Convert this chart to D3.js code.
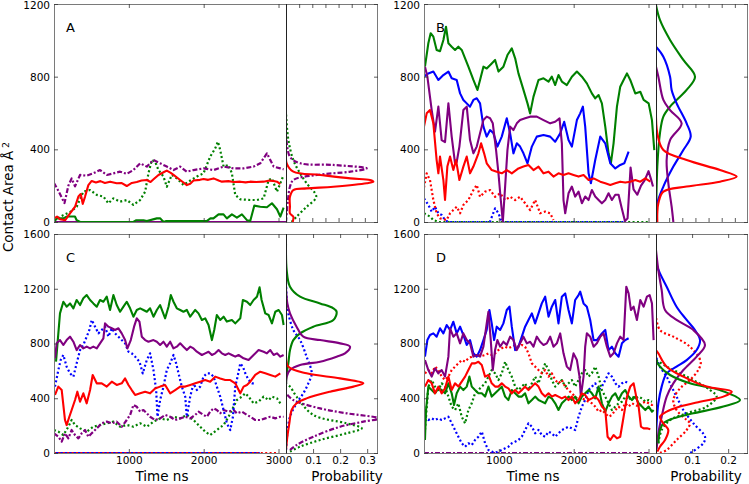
<!DOCTYPE html>
<html><head><meta charset="utf-8">
<script src="https://cdn.jsdelivr.net/npm/d3@7"></script>
<style>body{margin:0;background:#fff}svg{display:block}text{font-family:"DejaVu Sans",sans-serif}</style>
</head><body><svg id="c" width="749" height="484"></svg>
<script>
// ---------- time series: [time ns, contact area] ----------
const A_red = [[0,20],[40,30],[80,15],[150,10],[214,48],[281,84],[326,140],[357,154],[384,100],[415,140],[459,203],[504,226],[560,218],[620,225],[680,215],[750,222],[838,213],[900,215],[972,198],[1040,215],[1106,220],[1170,228],[1240,231],[1290,220],[1330,235],[1396,259],[1470,275],[1507,283],[1560,270],[1597,259],[1686,231],[1775,203],[1820,210],[1864,228],[1950,232],[1998,237],[2060,232],[2132,240],[2200,228],[2243,222],[2330,225],[2400,220],[2489,222],[2560,218],[2622,222],[2700,220],[2801,222],[2880,228],[2935,226],[2980,222],[3024,209]];
const A_green = [[0,0],[36,20],[125,20],[169,30],[280,30],[303,10],[350,0],[1060,0],[1100,10],[1195,10],[1240,5],[1374,20],[1420,20],[1463,0],[1500,5],[2040,5],[2090,20],[2130,20],[2199,42],[2265,42],[2310,20],[2377,42],[2444,24],[2511,42],[2578,10],[2622,5],[2676,90],[2756,84],[2845,81],[2912,103],[2979,70],[3024,30],[3068,79]];
const A_greenDot = [[0,10],[125,38],[214,55],[303,84],[392,167],[482,176],[571,149],[660,140],[727,103],[794,130],[883,112],[972,121],[1061,94],[1151,121],[1218,167],[1262,268],[1307,341],[1351,332],[1396,286],[1463,250],[1507,194],[1574,259],[1641,240],[1730,204],[1797,222],[1909,250],[1998,268],[2087,360],[2154,405],[2190,442],[2221,396],[2266,305],[2333,314],[2377,268],[2422,149],[2489,125],[2622,121],[2712,121],[2801,130],[2868,231],[2912,240],[2979,167],[3024,213],[3060,250]];
const A_purpleDot = [[0,215],[60,170],[140,104],[192,200],[236,240],[281,196],[348,259],[437,255],[526,268],[615,286],[705,259],[794,268],[883,277],[972,265],[1061,286],[1151,323],[1240,305],[1329,341],[1418,323],[1507,305],[1597,286],[1686,305],[1775,277],[1864,286],[1998,295],[2132,286],[2266,305],[2399,295],[2533,295],[2667,305],[2756,323],[2845,378],[2890,341],[2935,305],[3024,295],[3068,290]];
const A_purple = [[0,0],[3100,0]];

const B_green = [[13,855],[58,984],[89,1039],[125,1020],[169,947],[214,940],[259,1002],[294,1075],[326,984],[370,965],[415,947],[459,965],[504,947],[549,901],[593,855],[660,782],[714,727],[749,782],[794,855],[838,845],[905,873],[950,892],[995,828],[1061,855],[1115,919],[1173,956],[1218,901],[1262,818],[1329,727],[1383,653],[1418,598],[1463,690],[1530,782],[1597,791],[1664,773],[1708,800],[1753,754],[1797,809],[1842,773],[1909,754],[1976,800],[2043,828],[2110,800],[2176,763],[2243,708],[2288,681],[2333,699],[2377,653],[2422,525],[2466,378],[2497,323],[2533,433],[2578,635],[2622,745],[2667,782],[2712,818],[2756,782],[2823,708],[2890,717],[2935,672],[3002,653],[3046,561],[3077,396]];
const B_blue = [[0,800],[58,818],[125,828],[192,782],[259,809],[326,828],[370,791],[437,782],[482,708],[526,672],[571,653],[615,635],[660,672],[705,681],[749,653],[794,525],[838,470],[883,506],[928,488],[981,415],[1039,470],[1106,571],[1151,488],[1195,378],[1240,433],[1284,415],[1329,378],[1383,323],[1441,415],[1507,470],[1597,479],[1686,470],[1753,442],[1820,488],[1873,552],[1931,451],[1976,415],[2043,561],[2087,598],[2123,635],[2154,525],[2199,268],[2230,213],[2288,341],[2355,470],[2422,433],[2489,323],[2556,295],[2622,314],[2676,323],[2734,387]];
const B_purple = [[13,855],[45,800],[103,616],[147,497],[192,635],[236,451],[281,440],[326,653],[370,470],[415,323],[437,330],[473,415],[526,616],[571,635],[615,451],[660,378],[705,415],[749,488],[794,561],[838,580],[883,571],[919,543],[963,396],[995,268],[1026,121],[1053,0],[1084,195],[1115,396],[1151,525],[1195,506],[1240,543],[1284,561],[1351,571],[1418,580],[1507,580],[1597,561],[1686,543],[1753,552],[1811,570],[1842,433],[1864,121],[1887,48],[1931,158],[1976,195],[2020,140],[2065,167],[2110,103],[2154,140],[2199,121],[2243,176],[2288,140],[2333,121],[2377,103],[2422,121],[2466,158],[2511,121],[2556,150],[2600,150],[2640,80],[2685,5],[2720,20],[2760,300],[2800,180],[2850,150],[2900,200],[2950,230],[3000,280],[3030,240],[3060,195]];
const B_red = [[0,525],[36,598],[80,616],[125,543],[169,341],[192,268],[214,360],[259,231],[281,121],[312,305],[348,360],[392,286],[428,341],[473,231],[526,305],[571,360],[615,268],[660,305],[727,378],[763,433],[803,378],[838,323],[905,286],[972,277],[1039,268],[1106,286],[1173,268],[1262,295],[1329,305],[1396,314],[1463,286],[1530,305],[1597,268],[1664,277],[1730,250],[1797,268],[1864,259],[1931,268],[1998,259],[2065,250],[2132,259],[2199,231],[2266,240],[2355,222],[2422,213],[2489,204],[2556,213],[2622,222],[2689,217],[2756,222],[2823,231],[2890,222],[2957,240],[3024,222]];
const B_redDot = [[0,190],[36,268],[80,231],[125,121],[169,48],[214,20],[303,11],[348,48],[392,66],[437,84],[482,48],[526,94],[593,121],[660,176],[705,204],[749,139],[816,167],[883,176],[950,139],[1017,158],[1084,121],[1151,139],[1218,121],[1284,139],[1351,103],[1418,66],[1485,121],[1552,48],[1619,57],[1686,48],[1730,11]];
const B_blueDot = [[0,130],[58,94],[103,57],[147,84],[192,48],[236,39],[281,11],[326,0],[880,0],[950,75],[995,48],[1039,0],[2700,0]];
const B_greenDot = [[0,48],[80,30],[125,11],[200,0],[3000,0]];

const C_green = [[27,667],[80,1020],[125,1105],[169,1069],[214,1093],[259,1057],[303,1118],[348,1081],[392,1130],[437,1154],[482,1118],[526,1093],[571,1069],[615,1118],[660,1105],[705,1142],[749,1045],[794,1154],[838,1081],[883,1032],[928,1069],[972,1105],[1017,1057],[1061,996],[1106,1045],[1151,1057],[1195,1045],[1240,1032],[1284,1057],[1329,996],[1374,1045],[1418,1081],[1485,984],[1530,1069],[1561,1154],[1597,1105],[1641,1057],[1686,1045],[1730,1032],[1775,1045],[1820,996],[1887,1045],[1931,1020],[1976,972],[2020,984],[2065,935],[2110,825],[2141,899],[2176,1008],[2221,972],[2266,996],[2310,960],[2377,972],[2422,947],[2489,984],[2524,1118],[2578,1105],[2622,1081],[2667,1118],[2712,1142],[2747,1210],[2774,1118],[2823,1020],[2868,1008],[2912,947],[2957,1032],[3002,1045],[3046,1008],[3068,935]];
const C_purple = [[13,692],[36,801],[80,825],[125,789],[169,825],[214,850],[259,813],[303,752],[348,789],[392,764],[437,777],[482,764],[526,777],[571,764],[615,801],[660,838],[682,947],[727,923],[772,911],[816,899],[861,911],[905,874],[950,825],[981,764],[1026,825],[1070,923],[1106,984],[1142,959],[1173,850],[1218,825],[1262,813],[1329,825],[1374,813],[1418,789],[1463,813],[1507,777],[1552,813],[1597,764],[1641,777],[1686,801],[1730,777],[1775,752],[1820,777],[1864,764],[1909,740],[1976,716],[2020,728],[2065,740],[2110,716],[2154,728],[2199,752],[2243,728],[2288,716],[2333,728],[2377,716],[2422,704],[2466,716],[2533,692],[2600,679],[2667,716],[2734,752],[2801,740],[2845,728],[2890,752],[2935,716],[2979,728],[3024,704],[3068,716]];
const C_red = [[13,424],[58,485],[103,460],[147,241],[169,204],[205,265],[236,314],[281,387],[312,448],[348,375],[392,436],[437,363],[482,460],[517,570],[571,509],[638,509],[705,485],[772,521],[838,497],[905,509],[950,545],[995,497],[1039,460],[1084,424],[1151,436],[1218,448],[1284,436],[1351,472],[1418,485],[1485,497],[1552,436],[1619,460],[1686,485],[1753,485],[1820,497],[1887,509],[1953,521],[2020,533],[2087,521],[2154,558],[2221,545],[2288,533],[2355,533],[2422,509],[2489,436],[2533,485],[2578,497],[2622,521],[2689,570],[2756,594],[2823,582],[2890,570],[2957,558],[3024,582]];
const C_blueDot = [[13,485],[58,606],[89,679],[125,716],[169,631],[214,582],[259,558],[303,655],[348,752],[392,789],[437,850],[473,899],[504,972],[549,923],[593,874],[638,899],[682,923],[727,850],[772,911],[816,874],[861,850],[905,825],[950,801],[995,740],[1039,728],[1084,704],[1142,667],[1186,582],[1240,679],[1284,728],[1329,606],[1365,460],[1383,265],[1418,387],[1463,485],[1507,606],[1552,655],[1597,716],[1632,655],[1664,582],[1708,485],[1753,412],[1775,265],[1820,412],[1864,509],[1909,460],[1953,485],[1998,558],[2043,582],[2087,582],[2132,558],[2176,485],[2221,412],[2266,314],[2310,217],[2355,168],[2391,265],[2422,485],[2453,558],[2489,655],[2524,631],[2556,582],[2600,533],[2645,509],[2689,509]];
const C_greenDot = [[0,168],[58,156],[125,131],[192,192],[236,241],[281,205],[348,180],[437,156],[526,192],[615,205],[705,217],[794,229],[883,192],[972,205],[1061,192],[1151,217],[1240,192],[1329,229],[1418,253],[1507,241],[1597,265],[1686,253],[1775,278],[1864,241],[1953,192],[2020,156],[2087,131],[2176,168],[2266,205],[2333,265],[2377,314],[2444,387],[2511,412],[2556,436],[2600,412],[2667,363],[2734,375],[2801,412],[2868,387],[2912,412],[2979,399],[3024,363]];
const C_purpleDot = [[0,144],[58,119],[103,83],[147,144],[192,107],[236,168],[281,131],[326,107],[370,144],[415,168],[459,119],[504,144],[571,180],[638,217],[705,229],[772,217],[838,229],[905,192],[972,241],[1017,278],[1061,351],[1106,338],[1151,302],[1195,314],[1240,290],[1284,265],[1351,241],[1418,253],[1485,278],[1552,265],[1619,241],[1686,253],[1753,265],[1820,253],[1887,278],[1931,302],[1998,278],[2043,265],[2087,302],[2132,326],[2176,314],[2221,290],[2266,314],[2333,302],[2399,314],[2444,290],[2511,302],[2578,278],[2622,265],[2689,241],[2756,241],[2823,253],[2890,265],[2957,253],[3024,265],[3068,265]];
const C_blue = [[0,0],[2750,0]];
const C_redDot = [[0,0],[3000,0]];

const D_blue = [[13,704],[45,825],[80,862],[125,874],[169,850],[214,911],[259,874],[303,935],[348,899],[392,959],[437,874],[482,923],[526,862],[571,789],[615,825],[660,728],[705,704],[749,752],[794,825],[838,899],[874,1045],[905,947],[937,825],[972,923],[1017,899],[1061,947],[1106,1045],[1142,1069],[1173,923],[1218,752],[1262,777],[1307,850],[1351,923],[1396,972],[1441,1020],[1485,947],[1530,1020],[1574,1093],[1619,1142],[1664,996],[1708,1069],[1753,1118],[1797,947],[1842,1142],[1887,1166],[1931,1045],[1976,947],[2020,1118],[2065,1154],[2087,1179],[2132,1093],[2176,1069],[2221,972],[2266,825],[2310,825],[2377,874],[2422,899],[2466,752],[2511,777],[2556,728],[2600,704],[2645,801],[2689,825],[2734,838]];
const D_purple = [[13,679],[58,606],[103,558],[147,618],[192,582],[236,606],[281,558],[326,704],[348,911],[392,850],[437,874],[482,801],[526,874],[571,825],[615,801],[660,704],[705,716],[749,704],[794,777],[838,947],[861,1032],[892,825],[919,606],[950,752],[981,825],[1017,777],[1061,813],[1106,789],[1151,850],[1195,825],[1240,752],[1284,801],[1329,850],[1374,801],[1418,813],[1463,777],[1507,850],[1552,813],[1597,789],[1641,801],[1686,850],[1730,777],[1775,801],[1820,874],[1864,728],[1909,631],[1953,606],[1998,728],[2043,679],[2078,558],[2096,412],[2132,558],[2154,777],[2176,874],[2221,850],[2266,777],[2310,801],[2355,850],[2399,874],[2444,777],[2489,704],[2533,728],[2578,801],[2622,850],[2667,825],[2703,1215],[2734,1166],[2765,1045],[2801,1069],[2845,972],[2890,1118],[2935,1069],[2979,1142],[3015,1154],[3046,1093],[3068,825]];
const D_red = [[13,485],[58,533],[103,509],[147,436],[192,485],[236,436],[281,472],[326,558],[370,460],[415,509],[459,485],[504,521],[549,558],[593,606],[638,655],[682,655],[727,667],[772,643],[816,558],[861,570],[905,509],[950,485],[995,485],[1039,509],[1084,485],[1128,472],[1173,436],[1218,460],[1262,436],[1307,460],[1351,485],[1396,460],[1441,485],[1485,509],[1530,485],[1574,436],[1619,412],[1664,436],[1708,412],[1753,424],[1797,412],[1842,399],[1887,412],[1931,387],[1976,412],[2020,363],[2065,387],[2110,436],[2154,424],[2199,387],[2243,399],[2288,412],[2333,387],[2377,339],[2422,314],[2453,119],[2489,95],[2533,131],[2578,107],[2622,119],[2667,265],[2712,412],[2756,485],[2801,509],[2836,412],[2868,339],[2899,192],[2935,180],[2979,180],[3024,173]];
const D_green = [[13,95],[27,314],[58,485],[103,460],[147,436],[192,472],[236,460],[281,436],[326,509],[370,436],[401,351],[437,436],[482,485],[526,460],[571,485],[607,558],[638,485],[682,460],[727,436],[772,436],[816,412],[861,485],[905,412],[950,436],[995,460],[1039,485],[1084,412],[1128,387],[1173,460],[1218,436],[1262,412],[1307,412],[1351,436],[1396,363],[1441,387],[1485,412],[1530,387],[1574,375],[1619,363],[1664,412],[1708,399],[1753,363],[1797,314],[1842,363],[1887,387],[1931,412],[1976,387],[2020,412],[2065,363],[2110,412],[2154,436],[2199,460],[2243,436],[2288,399],[2333,485],[2377,363],[2422,302],[2466,363],[2511,412],[2556,436],[2600,387],[2645,436],[2689,460],[2734,412],[2779,387],[2823,412],[2868,363],[2912,339],[2957,314],[3002,339],[3046,302],[3068,314]];
const D_redDot = [[13,582],[58,606],[103,582],[147,631],[192,606],[236,558],[281,533],[326,558],[370,606],[415,631],[459,655],[504,679],[549,667],[593,692],[638,704],[682,716],[727,716],[772,709],[816,716],[861,728],[905,716],[950,728],[995,752],[1039,765],[1084,777],[1128,765],[1173,777],[1218,789],[1262,777],[1307,789],[1351,777],[1396,728],[1441,655],[1485,631],[1530,606],[1574,582],[1619,606],[1664,558],[1708,582],[1753,533],[1797,509],[1842,533],[1887,485],[1931,460],[1976,436],[2020,412],[2065,387],[2110,399],[2154,387],[2199,375],[2243,363],[2288,339],[2333,302],[2377,314],[2422,290],[2466,265],[2511,278],[2556,314],[2600,339],[2645,314],[2689,363],[2734,339],[2779,363],[2823,351],[2868,339],[2912,363],[2957,375],[3002,363],[3046,351],[3068,363]];
const D_greenDot = [[13,168],[58,485],[103,533],[147,485],[192,460],[236,509],[281,485],[326,412],[370,339],[415,314],[459,363],[504,265],[549,217],[593,314],[638,363],[682,436],[727,460],[772,485],[816,509],[861,558],[905,606],[950,582],[995,533],[1039,582],[1084,667],[1128,606],[1173,558],[1218,485],[1262,460],[1307,485],[1351,509],[1396,460],[1441,509],[1485,558],[1530,509],[1574,582],[1619,655],[1664,606],[1708,533],[1753,485],[1797,509],[1842,533],[1887,485],[1931,509],[1976,533],[2020,485],[2065,533],[2110,582],[2154,606],[2199,558],[2243,582],[2288,631],[2333,558],[2377,460],[2422,412],[2466,363],[2511,314],[2556,339],[2600,363],[2645,375],[2689,412],[2734,387],[2779,412],[2823,399],[2868,412],[2912,399],[2957,375],[3002,387],[3046,375]];
const D_blueDot = [[13,265],[58,241],[103,253],[147,241],[192,253],[236,241],[281,253],[326,265],[370,217],[415,168],[459,119],[504,71],[549,46],[593,71],[638,58],[682,95],[727,119],[772,156],[816,71],[861,22],[905,10],[950,2],[995,10],[1039,22],[1084,34],[1128,46],[1173,71],[1218,83],[1262,95],[1307,119],[1351,168],[1396,217],[1441,192],[1485,144],[1530,168],[1574,131],[1619,119],[1664,156],[1708,144],[1753,119],[1797,144],[1842,168],[1887,180],[1931,192],[1976,180],[2020,168],[2065,265],[2110,339],[2154,387],[2199,460],[2243,485],[2288,509],[2333,460],[2377,485],[2422,533],[2466,582],[2511,558],[2556,509],[2600,485],[2645,509],[2689,521],[2734,509]];
const D_purpleDot = [[0,0],[3000,0]];

// ---------- probability densities: [contact area, probability] ----------
const A_dRed = [[0,0.005],[29,0.0056],[48,0.003],[84,0.003],[139,0.003],[176,0.0056],[185,0.0157],[194,0.036],[213,0.0614],[222,0.0665],[231,0.064],[240,0.049],[259,0.026],[277,0.0056],[323,0.0005],[369,0]];
const A_dPurpleDot = [[0,0],[121,0.0015],[194,0.003],[231,0.0056],[259,0.0235],[277,0.049],[295,0.0614],[314,0.036],[323,0.011],[359,0.003],[489,0]];
const A_dGreenDot = [[0,0.0043],[29,0.008],[84,0.0157],[139,0.023],[213,0.0157],[268,0.0107],[341,0.0056],[451,0.0018],[600,0]];

const B_dGreen = [[0,0],[305,0.001],[488,0.003],[580,0.0056],[635,0.0107],[727,0.0233],[800,0.0297],[892,0.0208],[1002,0.0107],[1112,0.003],[1193,0]];
const B_dBlue = [[0,0],[103,0.001],[195,0.0056],[305,0.0132],[396,0.0208],[470,0.0264],[543,0.0233],[653,0.0157],[727,0.0119],[800,0.0107],[910,0.0056],[965,0]];
const B_dPurple = [[0,0.0132],[84,0.0119],[213,0.0094],[341,0.0081],[451,0.0107],[543,0.0195],[616,0.0107],[672,0.0056],[800,0.0018],[855,0]];
const B_dRed = [[0,0.001],[48,0.001],[103,0.0018],[167,0.0056],[195,0.0233],[222,0.0487],[250,0.0614],[286,0.0487],[341,0.0233],[396,0.0056],[488,0.001],[672,0]];

const C_dGreen = [[509,0],[582,0.0025],[655,0.0086],[752,0.0148],[825,0.027],[874,0.052],[923,0.101],[972,0.175],[1032,0.187],[1057,0.175],[1093,0.126],[1142,0.052],[1215,0.0148],[1337,0.0025],[1532,0]];
const C_dPurple = [[485,0],[558,0.0025],[606,0.0148],[643,0.052],[667,0.126],[704,0.187],[728,0.218],[777,0.2365],[801,0.2],[825,0.126],[850,0.064],[923,0.039],[1020,0.0148],[1093,0.005],[1200,0]];
const C_dRed = [[22,0],[119,0.005],[217,0.0123],[314,0.021],[363,0.039],[399,0.076],[448,0.163],[485,0.249],[509,0.286],[545,0.2],[582,0.076],[631,0.0086],[704,0]];
const C_dBlueDot = [[22,0],[144,0.005],[265,0.0148],[363,0.039],[436,0.064],[509,0.0825],[582,0.095],[704,0.076],[825,0.052],[899,0.027],[1020,0.0086],[1100,0.003],[1260,0]];
const C_dGreenDot = [[10,0.0148],[46,0.052],[95,0.126],[144,0.224],[180,0.28],[217,0.224],[278,0.101],[412,0.039],[485,0.0148],[509,0]];
const C_dPurpleDot = [[22,0.0148],[58,0.039],[119,0.101],[192,0.2],[229,0.286],[253,0.345],[290,0.224],[326,0.126],[387,0.027],[436,0]];

const D_dBlue = [[71,0],[217,0.0018],[363,0.0065],[485,0.0157],[582,0.0296],[631,0.057],[679,0.085],[752,0.1127],[825,0.122],[898,0.108],[972,0.085],[1069,0.057],[1215,0.0296],[1312,0.011],[1385,0]];
const D_dPurple = [[30,0.0018],[144,0.0065],[265,0.0157],[412,0.0296],[509,0.048],[606,0.0758],[704,0.1127],[789,0.1358],[898,0.1035],[972,0.057],[1045,0.025],[1191,0.0157],[1337,0.0065],[1483,0]];
const D_dRed = [[10,0.0037],[46,0.011],[95,0.025],[168,0.034],[217,0.0203],[265,0.011],[302,0.0296],[339,0.0665],[375,0.122],[412,0.1866],[448,0.21],[485,0.1404],[558,0.0758],[631,0.0296],[728,0.0065],[752,0]];
const D_dGreen = [[71,0.0065],[168,0.011],[217,0.0203],[253,0.048],[290,0.1035],[339,0.1866],[387,0.233],[460,0.1773],[509,0.094],[570,0.039],[631,0.011],[680,0]];
const D_dGreenDot = [[71,0.0065],[168,0.0157],[241,0.039],[290,0.085],[339,0.1404],[412,0.168],[460,0.15],[558,0.085],[631,0.0296],[680,0]];
const D_dRedDot = [[0,0.011],[22,0.0296],[95,0.057],[168,0.085],[217,0.094],[241,0.085],[314,0.057],[387,0.048],[472,0.0665],[533,0.094],[606,0.117],[667,0.1238],[777,0.094],[850,0.048],[898,0.011],[996,0]];
const D_dBlueDot = [[0,0.095],[71,0.131],[119,0.1358],[217,0.1035],[314,0.0758],[412,0.057],[485,0.043],[558,0.0296],[631,0.011],[704,0]];

// ---------- axis ticks ----------
const timeTicks = [1000, 2000, 3000];
const areaTicksTop = [0, 400, 800, 1200];
const areaTicksBottom = [0, 400, 800, 1200, 1600];
const probTicksTop = [0.01, 0.02, 0.03, 0.04, 0.05, 0.06];
const probTicksC = [0.1, 0.2, 0.3];
const probTicksD = [0.1, 0.2];
const panelLetters = ["A", "B", "C", "D"];

// ---------- layout / styling ----------
const COL = {red:"#ff0000", green:"#008000", blue:"#0000ff", purple:"#800080"};
const DASH = {solid:null, dot:"2,2.4", dashdot:"5,2,2,2"};
const S = (data, color, style) => ({data, color, style});

const panels = [
  {letter:panelLetters[0], x0:54, x1:286, px1:378, y0:4, y1:222, ymax:1200, pmax:0.07,
   yt:areaTicksTop, pt:probTicksTop, ptLabels:false, xLabels:false,
   series:[S(A_purple,"purple","solid"),S(A_greenDot,"green","dot"),S(A_purpleDot,"purple","dashdot"),S(A_green,"green","solid"),S(A_red,"red","solid")],
   dens:[S(A_dGreenDot,"green","dot"),S(A_dPurpleDot,"purple","dashdot"),S(A_dRed,"red","solid")]},
  {letter:panelLetters[1], x0:424, x1:656, px1:748, y0:4, y1:222, ymax:1200, pmax:0.07,
   yt:areaTicksTop, pt:probTicksTop, ptLabels:false, xLabels:false,
   series:[S(B_greenDot,"green","dot"),S(B_blueDot,"blue","dot"),S(B_redDot,"red","dot"),S(B_green,"green","solid"),S(B_blue,"blue","solid"),S(B_purple,"purple","solid"),S(B_red,"red","solid")],
   dens:[S(B_dGreen,"green","solid"),S(B_dBlue,"blue","solid"),S(B_dPurple,"purple","solid"),S(B_dRed,"red","solid")]},
  {letter:panelLetters[2], x0:54, x1:286, px1:378, y0:234, y1:453, ymax:1600, pmax:0.34,
   yt:areaTicksBottom, pt:probTicksC, ptLabels:true, xLabels:true, timeX:162, probX:347,
   series:[S(C_blue,"blue","solid"),S(C_redDot,"red","dot"),S(C_greenDot,"green","dot"),S(C_purpleDot,"purple","dashdot"),S(C_blueDot,"blue","dot"),S(C_green,"green","solid"),S(C_purple,"purple","solid"),S(C_red,"red","solid")],
   dens:[S(C_dGreenDot,"green","dot"),S(C_dPurpleDot,"purple","dashdot"),S(C_dBlueDot,"blue","dot"),S(C_dGreen,"green","solid"),S(C_dPurple,"purple","solid"),S(C_dRed,"red","solid")]},
  {letter:panelLetters[3], x0:424, x1:656, px1:748, y0:234, y1:453, ymax:1600, pmax:0.255,
   yt:areaTicksBottom, pt:probTicksD, ptLabels:true, xLabels:true, timeX:533, probX:706,
   series:[S(D_purpleDot,"purple","dashdot"),S(D_blueDot,"blue","dot"),S(D_greenDot,"green","dot"),S(D_redDot,"red","dot"),S(D_blue,"blue","solid"),S(D_purple,"purple","solid"),S(D_green,"green","solid"),S(D_red,"red","solid")],
   dens:[S(D_dBlueDot,"blue","dot"),S(D_dGreenDot,"green","dot"),S(D_dRedDot,"red","dot"),S(D_dBlue,"blue","solid"),S(D_dPurple,"purple","solid"),S(D_dGreen,"green","solid"),S(D_dRed,"red","solid")]}
];

const svg = d3.select("#c");
const FRAME = "#7a7a7a";

function styleAxis(g, labels){
  g.select(".domain").remove();
  g.selectAll(".tick line").attr("stroke", "#333").attr("stroke-width", 0.8);
  g.selectAll(".tick text").attr("font-family", "DejaVu Sans").attr("font-size", "10.5px").attr("fill", "#000");
  if(!labels) g.selectAll(".tick text").remove();
}

panels.forEach((p, i) => {
  const x = d3.scaleLinear().domain([0, 3100]).range([p.x0, p.x1]);
  const y = d3.scaleLinear().domain([0, p.ymax]).range([p.y1, p.y0]);
  const px = d3.scaleLinear().domain([0, p.pmax]).range([p.x1, p.px1]);

  const defs = svg.append("defs");
  defs.append("clipPath").attr("id", "cm" + i).append("rect")
    .attr("x", p.x0).attr("y", p.y0 - 1).attr("width", p.x1 - p.x0).attr("height", p.y1 - p.y0 + 1.5);
  defs.append("clipPath").attr("id", "cp" + i).append("rect")
    .attr("x", p.x1).attr("y", p.y0).attr("width", p.px1 - p.x1).attr("height", p.y1 - p.y0);

  const line = d3.line().x(d => x(d[0])).y(d => y(d[1]));
  const gm = svg.append("g").attr("clip-path", `url(#cm${i})`);
  p.series.forEach(s => {
    gm.append("path").datum(s.data).attr("d", line)
      .attr("fill", "none").attr("stroke", COL[s.color])
      .attr("stroke-width", s.style === "solid" ? 2.1 : 2.2)
      .attr("stroke-linejoin", "round")
      .attr("stroke-dasharray", DASH[s.style]);
  });

  const dline = d3.line().curve(d3.curveCatmullRom.alpha(0.5)).x(d => px(d[1])).y(d => y(d[0]));
  const gp = svg.append("g").attr("clip-path", `url(#cp${i})`);
  p.dens.forEach(s => {
    gp.append("path").datum(s.data).attr("d", dline)
      .attr("fill", "none").attr("stroke", COL[s.color])
      .attr("stroke-width", s.style === "solid" ? 2.1 : 2.2)
      .attr("stroke-dasharray", DASH[s.style]);
  });

  // frames
  svg.append("rect").attr("x", p.x0 + 0.5).attr("y", p.y0 + 0.5).attr("width", p.px1 - p.x0 - 1).attr("height", p.y1 - p.y0)
    .attr("fill", "none").attr("stroke", FRAME).attr("stroke-width", 1);
  svg.append("line").attr("x1", p.x1 + 0.5).attr("x2", p.x1 + 0.5).attr("y1", p.y0).attr("y2", p.y1 + 0.5)
    .attr("stroke", "#222").attr("stroke-width", 1);

  // axes (inward ticks)
  svg.append("g").attr("transform", `translate(${p.x0},0)`)
    .call(d3.axisLeft(y).tickValues(p.yt).tickSize(-4).tickPadding(4).tickFormat(d3.format("d")))
    .call(g => styleAxis(g, true))
    .call(g => g.selectAll(".tick text").filter(d => d === p.ymax && p.y0 < 10).attr("dy", "0.42em"));
  svg.append("g").attr("transform", `translate(${p.px1},0)`)
    .call(d3.axisRight(y).tickValues(p.yt).tickSize(-4))
    .call(g => styleAxis(g, false));
  svg.append("g").attr("transform", `translate(0,${p.y0})`)
    .call(d3.axisTop(x).tickValues(timeTicks).tickSize(-4))
    .call(g => styleAxis(g, false));
  svg.append("g").attr("transform", `translate(0,${p.y1})`)
    .call(d3.axisBottom(x).tickValues(timeTicks).tickSize(-4).tickPadding(4).tickFormat(d3.format("d")))
    .call(g => styleAxis(g, p.xLabels));
  svg.append("g").attr("transform", `translate(0,${p.y0})`)
    .call(d3.axisTop(px).tickValues(p.pt).tickSize(-4))
    .call(g => styleAxis(g, false));
  svg.append("g").attr("transform", `translate(0,${p.y1})`)
    .call(d3.axisBottom(px).tickValues(p.pt).tickSize(-4).tickPadding(4).tickFormat(d3.format(".1f")))
    .call(g => styleAxis(g, p.ptLabels));

  svg.append("text").attr("x", p.x0 + 12).attr("y", p.y0 + 28)
    .attr("font-size", "13px").text(p.letter);

  if (p.xLabels) {
    svg.append("text").attr("x", p.timeX).attr("y", 481).attr("text-anchor", "middle")
      .attr("font-size", "13.5px").text("Time ns");
    svg.append("text").attr("x", p.probX).attr("y", 481).attr("text-anchor", "middle")
      .attr("font-size", "13.5px").text("Probability");
  }
});

const yl = svg.append("text").attr("transform", "translate(13,197) rotate(-90)")
  .attr("text-anchor", "middle").attr("font-size", "13.5px");
yl.append("tspan").text("Contact Area Å\u2009");
yl.append("tspan").attr("dy", "-0.45em").attr("font-size", "9.5px").text("2");
</script>
</body></html>
